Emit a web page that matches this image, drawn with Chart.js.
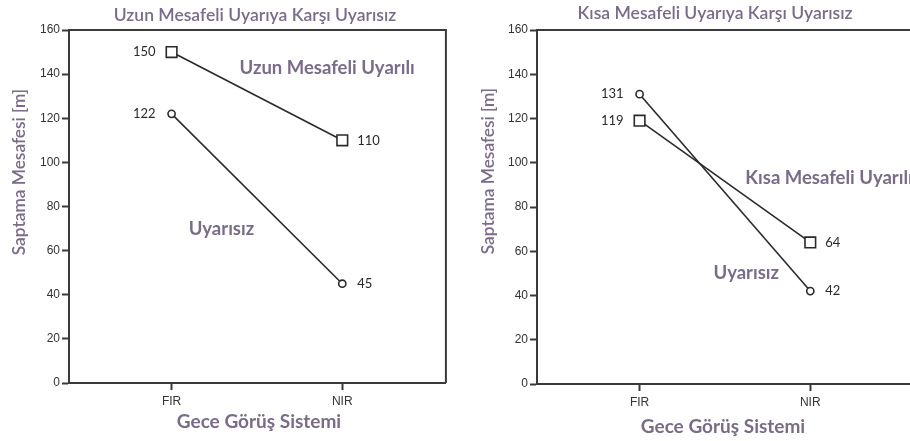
<!DOCTYPE html>
<html>
<head>
<meta charset="utf-8">
<script src="https://cdn.jsdelivr.net/npm/chart.js@4"></script>
<style>
  html, body { margin: 0; padding: 0; background: #fff; overflow: hidden; }
  body { width: 910px; height: 441px; position: relative; }
  .panel { position: absolute; top: 0; width: 455px; height: 441px; }
  #p1 { left: 0; }
  #p2 { left: 468px; }
</style>
</head>
<body>
<div class="panel" id="p1"><canvas id="c1"></canvas></div>
<div class="panel" id="p2"><canvas id="c2"></canvas></div>
<script>
// Night vision systems on the x axis
const categories = ['FIR', 'NIR'];
const yTicks = [0, 20, 40, 60, 80, 100, 120, 140, 160];

// Detection distance [m] — long-range warning vs. no warning
const uzunUyarili = [150, 110];
const uzunUyarisiz = [122, 45];

// Detection distance [m] — short-range warning vs. no warning
const kisaUyarili = [119, 64];
const kisaUyarisiz = [131, 42];

const TEXT_COLOR = '#7a6b88';
const INK = '#2a2a2a';
const AXIS = '#3a3a3a';

// Draws title, axis titles, frame, value labels and series names
const decorPlugin = {
  id: 'decor',
  afterDraw(chart, args, opts) {
    const { ctx, chartArea: a, scales } = chart;
    ctx.save();
    // plot frame (top and right edges)
    ctx.strokeStyle = AXIS;
    ctx.lineWidth = 2;
    ctx.beginPath();
    ctx.moveTo(a.left, a.top);
    ctx.lineTo(a.right, a.top);
    ctx.lineTo(a.right, a.bottom);
    ctx.stroke();

    // chart title
    ctx.fillStyle = TEXT_COLOR;
    ctx.textAlign = 'center';
    ctx.textBaseline = 'middle';
    ctx.font = '600 17.5px Lato';
    ctx.fillText(opts.title, opts.titleX, opts.titleY);

    // x axis title
    ctx.font = 'bold 19px Lato';
    ctx.fillText('Gece Görüş Sistemi', opts.xTitleX, opts.xTitleY);

    // y axis title
    ctx.save();
    ctx.translate(opts.yTitleX, opts.yTitleY);
    ctx.rotate(-Math.PI / 2);
    ctx.font = '600 17.3px Lato';
    ctx.fillText('Saptama Mesafesi [m]', 0, 0);
    ctx.restore();

    // value labels beside each point
    ctx.fillStyle = INK;
    ctx.font = '13px Lato';
    chart.data.datasets.forEach((ds, di) => {
      const meta = chart.getDatasetMeta(di);
      meta.data.forEach((pt, i) => {
        const v = ds.data[i].y;
        if (i === 0) {
          ctx.textAlign = 'right';
          ctx.fillText(String(v), pt.x - 16, pt.y);
        } else {
          ctx.textAlign = 'left';
          ctx.fillText(String(v), pt.x + 15, pt.y);
        }
      });
    });

    // series names placed in data coordinates
    ctx.fillStyle = TEXT_COLOR;
    ctx.textAlign = 'center';
    ctx.font = 'bold 18.5px Lato';
    opts.names.forEach(n => {
      ctx.fillText(n.text, scales.x.getPixelForValue(n.x), scales.y.getPixelForValue(n.y));
    });
    ctx.restore();
  }
};

function series(values, style, radius) {
  return {
    data: values.map((v, i) => ({ x: i, y: v })),
    borderColor: INK,
    borderWidth: 1.6,
    pointStyle: style,
    pointRadius: radius,
    pointBorderWidth: 1.6,
    pointBorderColor: INK,
    pointBackgroundColor: '#fff',
    tension: 0
  };
}

function makeChart(id, upper, lower, decor, padTop, padBottomH) {
  return new Chart(document.getElementById(id), {
    type: 'line',
    data: {
      datasets: [
        series(upper, 'rect', 7.5),
        series(lower, 'circle', 3.6)
      ]
    },
    options: {
      responsive: false,
      animation: false,
      devicePixelRatio: 1,
      layout: { padding: { top: padTop, right: 8, left: 0, bottom: 0 } },
      plugins: { legend: { display: false }, tooltip: { enabled: false }, decor },
      scales: {
        x: {
          type: 'linear',
          min: -0.601,
          max: 1.607,
          afterBuildTicks(s) { s.ticks = categories.map((c, i) => ({ value: i })); },
          afterFit(s) { s.height = padBottomH; },
          ticks: {
            callback: v => categories[v],
            color: '#333',
            font: { family: 'Liberation Sans', size: 12 },
            padding: 4,
            maxRotation: 0
          },
          grid: { drawOnChartArea: false, tickLength: 7, tickColor: AXIS, tickWidth: 2 },
          border: { color: AXIS, width: 2 }
        },
        y: {
          min: 0,
          max: 160,
          afterBuildTicks(s) { s.ticks = yTicks.map(v => ({ value: v })); },
          afterFit(s) { s.width = 69; },
          ticks: {
            color: '#333',
            font: { family: 'Liberation Sans', size: 12 },
            padding: 2
          },
          grid: { drawOnChartArea: false, tickLength: 7, tickColor: AXIS, tickWidth: 2 },
          border: { color: AXIS, width: 2 }
        }
      }
    },
    plugins: [decorPlugin]
  });
}

function sizeCanvas(id) {
  const c = document.getElementById(id);
  c.width = 455; c.height = 441;
  c.style.width = '455px'; c.style.height = '441px';
}
sizeCanvas('c1');
sizeCanvas('c2');

makeChart('c1', uzunUyarili, uzunUyarisiz, {
  title: 'Uzun Mesafeli Uyarıya Karşı Uyarısız',
  titleX: 255, titleY: 15,
  xTitleX: 259, xTitleY: 422,
  yTitleX: 19, yTitleY: 172,
  names: [
    { text: 'Uzun Mesafeli Uyarılı', x: 0.911, y: 142.8 },
    { text: 'Uyarısız', x: 0.292, y: 69.8 }
  ]
}, 30, 58);

makeChart('c2', kisaUyarili, kisaUyarisiz, {
  title: 'Kısa Mesafeli Uyarıya Karşı Uyarısız',
  titleX: 247, titleY: 13,
  xTitleX: 255, xTitleY: 427,
  yTitleX: 20, yTitleY: 171,
  names: [
    { text: 'Kısa Mesafeli Uyarılı', x: 1.11, y: 93 },
    { text: 'Uyarısız', x: 0.625, y: 50.2 }
  ]
}, 30, 57);
</script>
</body>
</html>
